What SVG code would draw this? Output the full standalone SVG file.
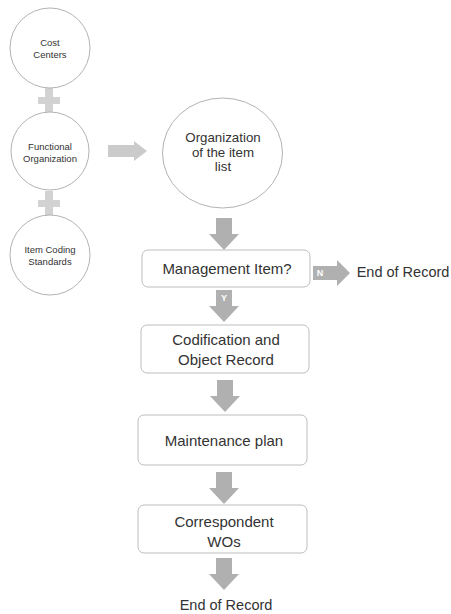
<svg xmlns="http://www.w3.org/2000/svg" width="451" height="614" viewBox="0 0 451 614">
<style>
.c{fill:#ffffff;stroke:#b3b3b3;stroke-width:1}
.b{fill:#ffffff;stroke:#bdbdbd;stroke-width:1}
.t{font-family:"Liberation Sans",Arial,sans-serif;fill:#333333;text-anchor:middle}
.s{font-size:9.5px}
.m{font-size:15px}
.e{font-size:14.5px}
.o{font-size:13.3px}
.a{fill:#b0b0b0}
.p{fill:#d2d2d2}
.l{font-family:"Liberation Sans",Arial,sans-serif;font-size:9px;font-weight:bold;fill:#ffffff;text-anchor:middle}
</style>
<defs>
<path id="down" d="M-8,0 H8 V16 H15 L0,32 L-15,16 H-8 Z"/>
<path id="plus" d="M-4,-12 H4 V-3 H11 V4 H4 V13 H-4 V4 H-11 V-3 H-4 Z"/>
</defs>
<rect width="451" height="614" fill="#ffffff"/>
<g id="connectors">
<use href="#plus" class="p" x="49" y="100"/>
<use href="#plus" class="p" x="49" y="203"/>
<path class="p" d="M108,145 H134 V141 L147,151 L134,161 V157 H108 Z" style="fill:#cbcbcb"/>
<use href="#down" class="a" x="224" y="218"/>
<use href="#down" class="a" x="224" y="290"/>
<text class="l" x="224" y="301">Y</text>
<path class="a" d="M313,266 H337 V260 L350,273 L337,286 V280 H313 Z"/>
<text class="l" x="320" y="276">N</text>
<use href="#down" class="a" x="225" y="380"/>
<use href="#down" class="a" x="224" y="472"/>
<use href="#down" class="a" x="224" y="558"/>
</g>
<g id="cost-centers">
<circle class="c" cx="50" cy="48" r="40"/>
<text class="t s" x="50" y="46">Cost</text>
<text class="t s" x="50" y="58">Centers</text>
</g>
<g id="functional-organization">
<circle class="c" cx="50" cy="151" r="39"/>
<text class="t s" x="50" y="150">Functional</text>
<text class="t s" x="50" y="162">Organization</text>
</g>
<g id="item-coding-standards">
<circle class="c" cx="50" cy="255" r="40"/>
<text class="t s" x="50" y="253">Item Coding</text>
<text class="t s" x="50" y="265">Standards</text>
</g>
<g id="organization-item-list">
<ellipse class="c" cx="222.5" cy="153" rx="60" ry="55"/>
<text class="t o" x="223" y="142">Organization</text>
<text class="t o" x="223" y="157">of the item</text>
<text class="t o" x="223" y="171">list</text>
</g>
<g id="management-item">
<rect class="b" x="142" y="250" width="168" height="37" rx="6"/>
<text class="t m" x="227" y="274">Management Item?</text>
</g>
<g id="end-of-record-n">
<text class="t e" x="403" y="277">End of Record</text>
</g>
<g id="codification">
<rect class="b" x="141" y="325" width="168" height="48" rx="6"/>
<text class="t m" x="226" y="345">Codification and</text>
<text class="t m" x="226" y="365">Object Record</text>
</g>
<g id="maintenance-plan">
<rect class="b" x="138" y="415" width="169" height="50" rx="6"/>
<text class="t m" x="224" y="446">Maintenance plan</text>
</g>
<g id="correspondent-wos">
<rect class="b" x="138" y="505" width="169" height="48" rx="6"/>
<text class="t m" x="224" y="527">Correspondent</text>
<text class="t m" x="224" y="547">WOs</text>
</g>
<g id="end-of-record">
<text class="t e" x="226" y="610">End of Record</text>
</g>
</svg>
